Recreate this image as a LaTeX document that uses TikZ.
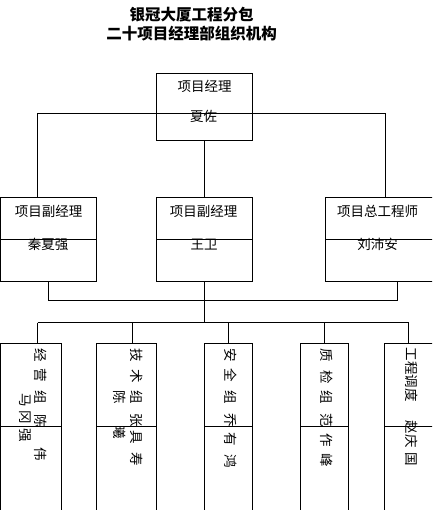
\documentclass[tikz,border=0pt]{standalone}
\usepackage{fontspec}
\setmainfont{Noto Sans CJK SC}
\begin{document}
\begin{tikzpicture}[x=1pt,y=-1pt,line width=1pt,
  boxnode/.style={draw,rectangle,inner sep=0pt},
  lbl/.style={inner sep=0pt,font=\fontsize{13.5}{16}\selectfont},
  vlbl/.style={inner sep=0pt,rotate=-90,anchor=west,font=\fontsize{13.5}{16}\selectfont},
  ttl/.style={inner sep=0pt,align=center,font=\fontsize{15.5}{19}\selectfont\bfseries}]
\useasboundingbox (0,0) rectangle (432,510);
\clip (0,0) rectangle (432,510);
\begin{scope}[shift={(0.5,0.5)}]
% title
\node[ttl] (title) at (191,23.5) {银冠大厦工程分包\\二十项目经理部组织机构};
% boxes
\node[boxnode,minimum width=96pt,minimum height=67pt] (gm) at (204,106.5) {};
\node[boxnode,minimum width=96pt,minimum height=84pt] (d1) at (48,239) {};
\node[boxnode,minimum width=96pt,minimum height=84pt] (d2) at (204,239) {};
\node[boxnode,minimum width=115pt,minimum height=84pt] (d3) at (382.5,239) {};
\node[boxnode,minimum width=61pt,minimum height=177pt] (b1) at (30.5,431.5) {};
\node[boxnode,minimum width=60pt,minimum height=177pt] (b2) at (126,431.5) {};
\node[boxnode,minimum width=48pt,minimum height=177pt] (b3) at (228,431.5) {};
\node[boxnode,minimum width=48pt,minimum height=177pt] (b4) at (324,431.5) {};
\node[boxnode,minimum width=56pt,minimum height=177pt] (b5) at (412,431.5) {};
% dividers
\foreach \b in {d1,d2,d3}{\draw (\b.west) -- (\b.east);}
\foreach \b in {b1,b2,b3,b4,b5}{\draw ([yshift=-83pt]\b.north west) -- ([yshift=-83pt]\b.north east);}
% connectors
\coordinate (h1L) at (37,113);
\coordinate (h1R) at (385,113);
\draw (h1L) -- (h1R);
\draw (h1L) -- (h1L |- d1.north);
\draw (h1R) -- (h1R |- d3.north);
\draw (gm.south) -- (d2.north);
\coordinate (h2L) at (48,300);
\coordinate (h2R) at (397,300);
\draw (d1.south) -- (h2L) -- (h2R) -- (h2R |- d3.south);
\coordinate (h3c) at (204,322);
\draw (d2.south) -- (h3c);
\coordinate (h3L) at (37,322);
\coordinate (h3a) at (132,322);
\coordinate (h3b) at (228,322);
\coordinate (h3d) at (324,322);
\coordinate (h3R) at (408,322);
\draw (h3L) -- (h3R);
\draw (h3L) -- (h3L |- b1.north);
\draw (h3a) -- (h3a |- b2.north);
\draw (h3b) -- (h3b |- b3.north);
\draw (h3d) -- (h3d |- b4.north);
\draw (h3R) -- (h3R |- b5.north);
% texts
\node[lbl] (t0a) at (204,86) {项目经理};
\node[lbl] (t0b) at (203,116) {夏佐};
\node[lbl] (t1a) at (48,211) {项目副经理};
\node[lbl] (t1b) at (47.5,244) {秦夏强};
\node[lbl] (t2a) at (203,211) {项目副经理};
\node[lbl] (t2b) at (203.5,244) {王卫};
\node[lbl] (t3a) at (377,211) {项目总工程师};
\node[lbl] (t3b) at (377,244) {刘沛安};
% vertical texts
\node[vlbl] (v1a) at (40,347.5) {经\hspace{7pt}营\hspace{8pt}组\hspace{11pt}陈\hspace{19.5pt}伟};
\node[vlbl] (v1b) at (25,392.5) {马\hspace{4pt}冈\hspace{4pt}强};
\node[vlbl] (v2a) at (136,347.5) {技\hspace{7.5pt}术\hspace{7.5pt}组\hspace{9.5pt}张\hspace{3.5pt}具\hspace{8.5pt}寿};
\node[vlbl] (v2b) at (119,389.5) {陈\hspace{21.5pt}曦};
\node[vlbl] (v3) at (230,347.5) {安\hspace{6.5pt}全\hspace{8.5pt}组\hspace{9.5pt}乔\hspace{5.5pt}有\hspace{8.5pt}鸿};
\node[vlbl] (v4) at (326,347.5) {质\hspace{8.5pt}检\hspace{6.5pt}组\hspace{9.5pt}范\hspace{6.5pt}作\hspace{6.5pt}峰};
\node[vlbl] (v5) at (411,346.5) {工程调度\hspace{19.5pt}赵庆\hspace{5pt}国};
\end{scope}
\end{tikzpicture}
\end{document}
